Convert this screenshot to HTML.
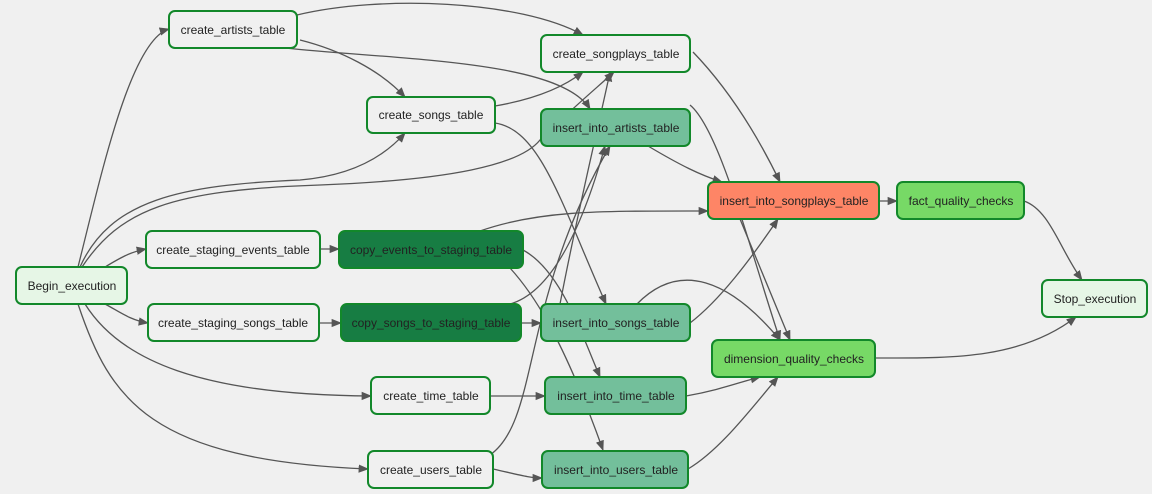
<!DOCTYPE html>
<html><head><meta charset="utf-8"><style>
html,body{margin:0;padding:0;background:#f0f0f0;}
svg{display:block;font-family:"Liberation Sans",sans-serif;}
text{font-size:12px;fill:#222;text-anchor:middle;dominant-baseline:central;}
</style></head><body>
<svg width="1152" height="494" viewBox="0 0 1152 494">
<defs><marker id="a" viewBox="0 0 10 10" refX="9" refY="5" markerWidth="8" markerHeight="8" orient="auto"><path d="M0,1 L10,5 L0,9 z" fill="#555"/></marker></defs>
<g fill="none" stroke="#555" stroke-width="1.3" marker-end="url(#a)">
<path d="M78,267 C100,180 130,40 169,29"/>
<path d="M80,267 C110,200 180,185 300,180 C360,175 390,150 405,133"/>
<path d="M82,267 C120,210 170,190 320,185 C450,180 520,165 540,140 C570,110 600,85 614,72"/>
<path d="M105,267 C120,258 130,252 146,249"/>
<path d="M105,304 C120,312 130,320 148,323"/>
<path d="M85,304 C120,360 200,395 371,396"/>
<path d="M78,304 C110,400 150,460 368,469"/>
<path d="M297,15 C380,-5 520,0 583,35"/>
<path d="M285,48 C400,60 560,60 590,109"/>
<path d="M300,40 C340,50 380,70 405,97"/>
<path d="M495,106 C530,100 560,90 583,72"/>
<path d="M495,123 C540,130 560,200 606,304"/>
<path d="M693,52 C720,80 750,120 780,182"/>
<path d="M648,146 C680,165 700,175 722,182"/>
<path d="M690,105 C720,130 750,250 780,340"/>
<path d="M480,231 C540,210 600,211 708,211"/>
<path d="M320,249 L339,249"/>
<path d="M319,323 L341,323"/>
<path d="M523,250 C560,270 580,330 600,377"/>
<path d="M510,268 C530,290 560,330 603,450"/>
<path d="M521,323 L541,323"/>
<path d="M510,304 C560,290 590,200 605,146"/>
<path d="M560,304 C580,200 600,120 610,72"/>
<path d="M690,323 C720,300 750,260 778,219"/>
<path d="M637,304 C680,260 730,280 780,340"/>
<path d="M740,219 L790,340"/>
<path d="M879,201 L897,201"/>
<path d="M490,396 L545,396"/>
<path d="M493,469 C520,475 530,478 542,478"/>
<path d="M490,455 C540,420 520,300 610,146"/>
<path d="M686,396 C720,390 740,382 760,377"/>
<path d="M688,469 C720,450 750,410 778,377"/>
<path d="M1024,201 C1050,210 1060,250 1082,280"/>
<path d="M875,358 C950,358 1020,360 1076,317"/>
</g>
<g stroke="#12882a" stroke-width="2">
<rect x="16" y="267" width="111" height="37" rx="6" fill="#e6f6e6"/>
<rect x="169" y="11" width="128" height="37" rx="6" fill="#f0f0f0"/>
<rect x="367" y="97" width="128" height="36" rx="6" fill="#f0f0f0"/>
<rect x="541" y="35" width="149" height="37" rx="6" fill="#f0f0f0"/>
<rect x="541" y="109" width="149" height="37" rx="6" fill="#73bf9b"/>
<rect x="146" y="231" width="174" height="37" rx="6" fill="#f0f0f0"/>
<rect x="339" y="231" width="184" height="37" rx="6" fill="#177d43"/>
<rect x="148" y="304" width="171" height="37" rx="6" fill="#f0f0f0"/>
<rect x="341" y="304" width="180" height="37" rx="6" fill="#177d43"/>
<rect x="541" y="304" width="149" height="37" rx="6" fill="#73bf9b"/>
<rect x="708" y="182" width="171" height="37" rx="6" fill="#fe8566"/>
<rect x="897" y="182" width="127" height="37" rx="6" fill="#77d966"/>
<rect x="712" y="340" width="163" height="37" rx="6" fill="#77d966"/>
<rect x="1042" y="280" width="105" height="37" rx="6" fill="#e6f6e6"/>
<rect x="371" y="377" width="119" height="37" rx="6" fill="#f0f0f0"/>
<rect x="545" y="377" width="141" height="37" rx="6" fill="#73bf9b"/>
<rect x="368" y="451" width="125" height="37" rx="6" fill="#f0f0f0"/>
<rect x="542" y="451" width="146" height="37" rx="6" fill="#73bf9b"/>
</g>
<text x="72" y="286">Begin_execution</text>
<text x="233" y="30">create_artists_table</text>
<text x="431" y="115">create_songs_table</text>
<text x="616" y="54">create_songplays_table</text>
<text x="616" y="128">insert_into_artists_table</text>
<text x="233" y="250">create_staging_events_table</text>
<text x="431" y="250">copy_events_to_staging_table</text>
<text x="233" y="323">create_staging_songs_table</text>
<text x="431" y="323">copy_songs_to_staging_table</text>
<text x="616" y="323">insert_into_songs_table</text>
<text x="794" y="201">insert_into_songplays_table</text>
<text x="961" y="201">fact_quality_checks</text>
<text x="794" y="359">dimension_quality_checks</text>
<text x="1095" y="299">Stop_execution</text>
<text x="431" y="396">create_time_table</text>
<text x="616" y="396">insert_into_time_table</text>
<text x="431" y="470">create_users_table</text>
<text x="616" y="470">insert_into_users_table</text>
</svg>
</body></html>
